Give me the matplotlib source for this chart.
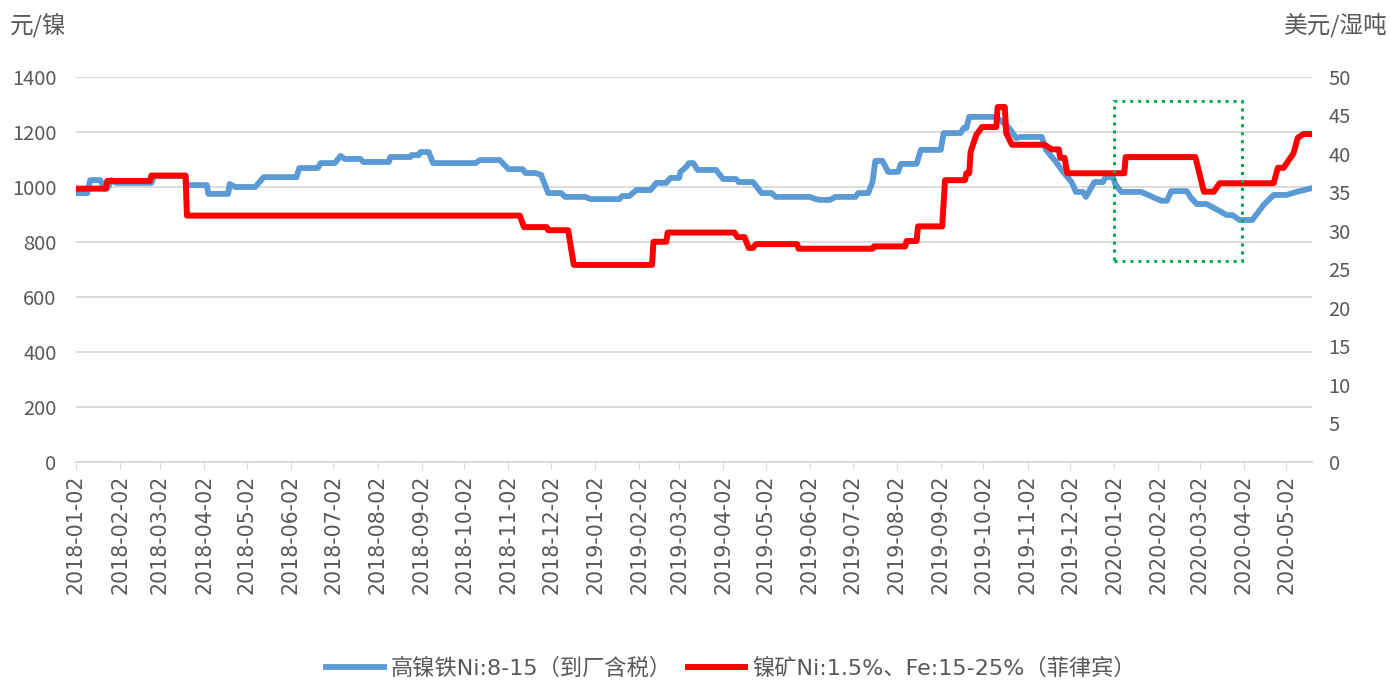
import pandas as pd
import matplotlib
matplotlib.use('Agg')
import matplotlib.pyplot as plt
import matplotlib.dates as mdates
import matplotlib.patches as patches

plt.rcParams['font.family'] = ['Noto Sans CJK SC', 'DejaVu Sans']
mixed_family = ['DejaVu Sans', 'Noto Sans CJK SC']

# 高镍铁 Ni:8-15 (元/镍), left axis
nfe_dates = ['2018-01-02', '2018-01-10', '2018-01-12', '2018-01-19', '2018-01-22', '2018-01-24',
             '2018-01-27', '2018-01-30', '2018-02-24', '2018-02-26', '2018-03-20', '2018-03-21',
             '2018-04-04', '2018-04-05', '2018-04-19', '2018-04-20', '2018-04-24', '2018-05-08',
             '2018-05-14', '2018-06-06', '2018-06-08', '2018-06-21', '2018-06-23', '2018-07-03',
             '2018-07-07', '2018-07-10', '2018-07-21', '2018-07-23', '2018-08-10', '2018-08-11',
             '2018-08-25', '2018-08-26', '2018-08-31', '2018-09-01', '2018-09-07', '2018-09-10',
             '2018-10-10', '2018-10-13', '2018-10-27', '2018-11-02', '2018-11-12', '2018-11-14',
             '2018-11-21', '2018-11-25', '2018-11-30', '2018-12-09', '2018-12-12', '2018-12-26',
             '2018-12-30', '2019-01-19', '2019-01-21', '2019-01-26', '2019-01-31', '2019-02-10',
             '2019-02-14', '2019-02-21', '2019-02-24', '2019-03-02', '2019-03-03', '2019-03-07',
             '2019-03-09', '2019-03-12', '2019-03-15', '2019-03-28', '2019-04-02', '2019-04-11',
             '2019-04-13', '2019-04-23', '2019-04-29', '2019-05-06', '2019-05-09', '2019-06-02',
             '2019-06-06', '2019-06-09', '2019-06-16', '2019-06-20', '2019-07-04', '2019-07-06',
             '2019-07-13', '2019-07-16', '2019-07-18', '2019-07-23', '2019-07-27', '2019-08-03',
             '2019-08-05', '2019-08-16', '2019-08-19', '2019-09-02', '2019-09-04', '2019-09-16',
             '2019-09-18', '2019-09-20', '2019-09-22', '2019-10-11', '2019-10-20', '2019-10-25',
             '2019-10-28', '2019-11-12', '2019-11-15', '2019-11-22', '2019-11-27', '2019-12-03',
             '2019-12-06', '2019-12-11', '2019-12-13', '2019-12-19', '2019-12-25', '2019-12-27',
             '2020-01-01', '2020-01-03', '2020-01-07', '2020-01-21', '2020-02-04', '2020-02-08',
             '2020-02-11', '2020-02-22', '2020-02-25', '2020-02-29', '2020-03-07', '2020-03-12',
             '2020-03-17', '2020-03-21', '2020-03-25', '2020-03-30', '2020-04-08', '2020-04-16',
             '2020-04-23', '2020-05-02', '2020-05-09', '2020-05-20']
nfe_values = [978, 978, 1025, 1025, 995, 995,
              1025, 1015, 1015, 1040, 1040, 1007,
              1007, 975, 975, 1011, 1000, 1000,
              1036, 1036, 1069, 1069, 1087, 1087,
              1113, 1102, 1102, 1091, 1091, 1109,
              1109, 1116, 1116, 1127, 1127, 1087,
              1087, 1098, 1098, 1065, 1065, 1051,
              1051, 1044, 978, 978, 964, 964,
              956, 956, 967, 967, 989, 989,
              1015, 1015, 1033, 1033, 1055, 1073,
              1087, 1087, 1062, 1062, 1029, 1029,
              1018, 1018, 978, 978, 964, 964,
              956, 953, 953, 964, 964, 978,
              978, 1018, 1095, 1095, 1055, 1055,
              1084, 1084, 1135, 1135, 1196, 1196,
              1215, 1215, 1255, 1255, 1215, 1178,
              1182, 1182, 1135, 1091, 1055, 1018,
              982, 982, 964, 1018, 1018, 1036,
              1036, 1007, 982, 982, 950, 950,
              985, 985, 960, 938, 938, 924,
              910, 898, 898, 880, 880, 935,
              971, 971, 982, 996]

# 镍矿 Ni:1.5%, Fe:15-25% (美元/湿吨), right axis
ore_dates = ['2018-01-02', '2018-01-23', '2018-01-24', '2018-02-23', '2018-02-24', '2018-03-20',
             '2018-03-21', '2018-11-10', '2018-11-13', '2018-11-29', '2018-11-30', '2018-12-14',
             '2018-12-18', '2019-02-11', '2019-02-12', '2019-02-21', '2019-02-22', '2019-04-10',
             '2019-04-12', '2019-04-17', '2019-04-20', '2019-04-23', '2019-04-25', '2019-05-24',
             '2019-05-25', '2019-07-16', '2019-07-17', '2019-08-08', '2019-08-09', '2019-08-16',
             '2019-08-17', '2019-09-03', '2019-09-05', '2019-09-19', '2019-09-20', '2019-09-22',
             '2019-09-23', '2019-09-27', '2019-10-01', '2019-10-11', '2019-10-12', '2019-10-17',
             '2019-10-18', '2019-10-22', '2019-11-14', '2019-11-19', '2019-11-24', '2019-11-25',
             '2019-11-28', '2019-11-30', '2020-01-09', '2020-01-10', '2020-02-28', '2020-03-05',
             '2020-03-12', '2020-03-16', '2020-04-23', '2020-04-26', '2020-04-30', '2020-05-07',
             '2020-05-10', '2020-05-14', '2020-05-20']
ore_values = [35.5, 35.5, 36.5, 36.5, 37.2, 37.2,
              32.0, 32.0, 30.5, 30.5, 30.1, 30.1,
              25.6, 25.6, 28.6, 28.6, 29.8, 29.8,
              29.2, 29.2, 27.8, 27.8, 28.3, 28.3,
              27.7, 27.7, 28.0, 28.0, 28.7, 28.7,
              30.6, 30.6, 36.6, 36.6, 37.5, 37.5,
              40.3, 42.5, 43.5, 43.5, 46.1, 46.1,
              42.7, 41.2, 41.2, 40.6, 40.6, 39.5,
              39.5, 37.5, 37.5, 39.6, 39.6, 35.1,
              35.1, 36.2, 36.2, 38.2, 38.2, 40.1,
              42.1, 42.6, 42.6]

# highlighted window
box_dates = ['2020-01-02', '2020-04-01']
box_values = [731, 1313]

tick_dates = pd.date_range('2018-01-01', '2020-05-01', freq='MS') + pd.Timedelta(days=1)
series_names = ['高镍铁Ni:8-15（到厂含税）', '镍矿Ni:1.5%、Fe:15-25%（菲律宾）']

text_color = '#595959'
grid_color = '#D9D9D9'

fig = plt.figure(figsize=(13.91, 6.82), dpi=100)
ax = fig.add_axes([76 / 1391, 1 - 462 / 682, (1312 - 76) / 1391, (462 - 77) / 682])
ax2 = ax.twinx()

nfe_x = pd.to_datetime(nfe_dates)
ore_x = pd.to_datetime(ore_dates)
l1, = ax.plot(nfe_x, nfe_values, color='#5B9BD5', lw=4.2, solid_joinstyle='round')
l2, = ax2.plot(ore_x, ore_values, color='#FF0000', lw=4.3, solid_joinstyle='round')

bx = mdates.date2num(pd.to_datetime(box_dates))
rect = patches.Rectangle((bx[0], box_values[0]), bx[1] - bx[0], box_values[1] - box_values[0],
                         fill=False, edgecolor='#00B050', linestyle=(0, (1, 1.6)), linewidth=2.2,
                         transform=ax.transData, zorder=5)
ax2.add_patch(rect)

ax.set_xlim(pd.Timestamp('2018-01-02'), pd.Timestamp('2020-05-20'))
ax.set_ylim(0, 1400)
ax2.set_ylim(0, 50)
ax.set_yticks(range(0, 1401, 200))
ax2.set_yticks(range(0, 51, 5))
ax.set_xticks(tick_dates)
ax.xaxis.set_major_formatter(mdates.DateFormatter('%Y-%m-%d'))

ax.grid(axis='y', color=grid_color, lw=1.3)
ax.set_axisbelow(True)
for a in (ax, ax2):
    for s in ['top', 'left', 'right']:
        a.spines[s].set_visible(False)
    a.spines['bottom'].set_color(grid_color)
    a.spines['bottom'].set_linewidth(1.3)
ax.tick_params(axis='y', length=0, labelsize=14.5, labelcolor=text_color, pad=14)
ax2.tick_params(axis='y', length=0, labelsize=14.5, labelcolor=text_color, pad=12)
ax.tick_params(axis='x', length=5, color=grid_color, labelcolor=text_color,
               labelrotation=90, pad=4)
for lab in ax.get_xticklabels():
    lab.set_family('DejaVu Sans')
    lab.set_fontsize(14.8)

fig.text(10 / 1391, 1 - 25 / 682, '元/镍', fontsize=17, color=text_color, va='center', ha='left')
fig.text(1388 / 1391, 1 - 25 / 682, '美元/湿吨', fontsize=17, color=text_color, va='center', ha='right')

fig.legend([l1, l2], series_names, loc='center', bbox_to_anchor=(731 / 1391, 1 - 668 / 682), ncol=2,
           frameon=False, prop={'family': mixed_family, 'size': 16}, labelcolor=text_color,
           handlelength=2.6, columnspacing=0.7, handletextpad=0.3)

fig.savefig('out.png', dpi=100)
